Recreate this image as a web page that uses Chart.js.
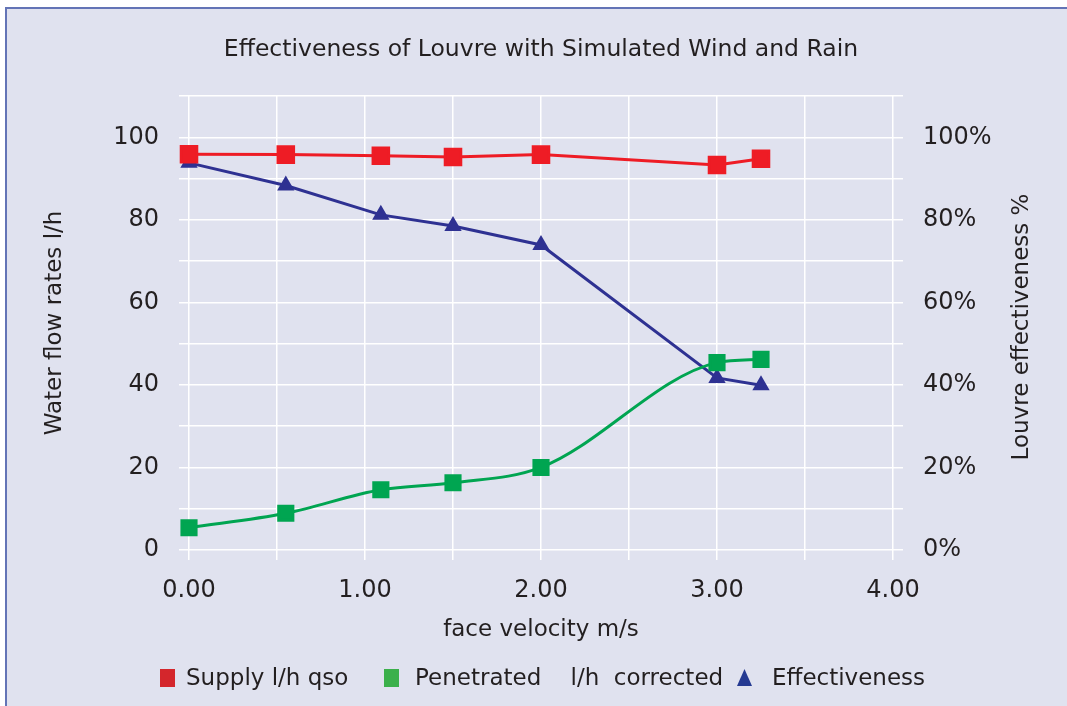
<!DOCTYPE html>
<html>
<head>
<meta charset="utf-8">
<script src="https://cdn.jsdelivr.net/npm/chart.js@4.4.1/dist/chart.umd.min.js"></script>
<style>
  html, body { margin: 0; padding: 0; background: #ffffff; }
  #frame {
    position: absolute; left: 5px; top: 7px; width: 1060px; height: 697px;
    background: #e0e2ef; border-left: 2px solid #6374b6; border-top: 2px solid #6374b6;
  }
  #wrap { position: absolute; left: 0; top: 0; width: 1067px; height: 706px; }
</style>
</head>
<body>
<div id="frame"></div>
<div id="wrap"><canvas id="chart" width="1067" height="706"></canvas></div>
<script>
// face velocity m/s
const velocity = [0, 0.55, 1.09, 1.5, 2.0, 3.0, 3.25];
// water flow rates l/h
const supply = [95.9, 95.8, 95.5, 95.2, 95.8, 93.3, 94.8];
const penetrated = [5.4, 8.9, 14.6, 16.3, 20.0, 45.4, 46.2];
// louvre effectiveness %
const effectiveness = [93.8, 88.3, 81.2, 78.5, 73.9, 41.7, 39.9];

const xTicks = [0, 1, 2, 3, 4];
const yTicks = [0, 20, 40, 60, 80, 100];
const seriesNames = ["Supply l/h qso", "Penetrated    l/h  corrected", "Effectiveness"];
const chartTitle = "Effectiveness of Louvre with Simulated Wind and Rain";

const FONT = "'DejaVu Sans', sans-serif";
const TEXT = "#231f20";

function pts(ys) {
  return velocity.map((v, i) => ({ x: v, y: ys[i] }));
}

// title, right axis title and legend row drawn by hand to follow the original placement
const extraText = {
  id: "extraText",
  afterDraw(chart) {
    const ctx = chart.ctx;
    ctx.save();
    ctx.fillStyle = TEXT;
    ctx.textBaseline = "middle";
    ctx.textAlign = "center";
    ctx.font = "23.5px " + FONT;
    ctx.fillText(chartTitle, 541, 50);

    const items = [
      { box: 160, text: 186, color: "#d4262c", shape: "rect" },
      { box: 384, text: 415, color: "#3bb04b", shape: "rect" },
      { box: 737, text: 772, color: "#253a92", shape: "triangle" },
    ];
    const y = 678;
    ctx.textAlign = "left";
    ctx.font = "23px " + FONT;
    items.forEach((it, i) => {
      ctx.fillStyle = it.color;
      if (it.shape === "triangle") {
        ctx.beginPath();
        ctx.moveTo(it.box + 7.5, y - 9);
        ctx.lineTo(it.box + 15, y + 8);
        ctx.lineTo(it.box, y + 8);
        ctx.closePath();
        ctx.fill();
      } else {
        ctx.fillRect(it.box, y - 9, 15, 18);
      }
      ctx.fillStyle = TEXT;
      ctx.fillText(chart.data.datasets[i].label, it.text, y + 1);
    });

    ctx.textAlign = "center";
    ctx.translate(1022, 327);
    ctx.rotate(-Math.PI / 2);
    ctx.fillText("Louvre effectiveness %", 0, 0);
    ctx.restore();
  },
};

const allSteps = (s, arr) => { s.ticks = arr.map((v) => ({ value: v })); };

new Chart(document.getElementById("chart"), {
  type: "line",
  plugins: [extraText],
  data: {
    datasets: [
      {
        label: seriesNames[0],
        data: pts(supply),
        yAxisID: "y",
        borderColor: "#ee1c25",
        backgroundColor: "#ee1c25",
        borderWidth: 3,
        pointStyle: "rect",
        pointRadius: 11,
        pointHoverRadius: 11,
        tension: 0,
        clip: false,
      },
      {
        label: seriesNames[1],
        data: pts(penetrated),
        yAxisID: "y",
        borderColor: "#00a551",
        backgroundColor: "#00a551",
        borderWidth: 3,
        pointStyle: "rect",
        pointRadius: 10,
        pointHoverRadius: 10,
        cubicInterpolationMode: "monotone",
        clip: false,
      },
      {
        label: seriesNames[2],
        data: pts(effectiveness),
        yAxisID: "y1",
        borderColor: "#2e3192",
        backgroundColor: "#2e3192",
        borderWidth: 3,
        pointStyle: "triangle",
        pointRadius: 7,
        pointHoverRadius: 7,
        tension: 0,
        clip: false,
      },
    ],
  },
  options: {
    responsive: false,
    animation: false,
    layout: { padding: { top: 96, bottom: 51, left: 0, right: 0 } },
    plugins: {
      title: { display: false },
      legend: { display: false },
      tooltip: { enabled: false },
    },
    scales: {
      x: {
        type: "linear",
        min: 0,
        max: 4,
        afterBuildTicks: (s) => allSteps(s, [0, 0.5, 1, 1.5, 2, 2.5, 3, 3.5, 4]),
        afterFit: (s) => { s.height = 105; },
        ticks: {
          color: TEXT,
          font: { family: FONT, size: 24 },
          padding: 16,
          maxRotation: 0,
          callback: (v) => (xTicks.includes(v) ? v.toFixed(2) : ""),
        },
        grid: { color: "#ffffff", lineWidth: 1.5, tickLength: 10 },
        border: { display: false },
        title: {
          display: true,
          text: "face velocity m/s",
          color: TEXT,
          font: { family: FONT, size: 23, lineHeight: 1 },
          padding: { top: 0, bottom: 13 },
        },
      },
      y: {
        position: "left",
        min: 0,
        max: 110,
        afterBuildTicks: (s) => allSteps(s, [0, 10, 20, 30, 40, 50, 60, 70, 80, 90, 100, 110]),
        afterFit: (s) => { s.width = 189; },
        ticks: {
          color: TEXT,
          font: { family: FONT, size: 24 },
          padding: 20,
          callback: (v) => (yTicks.includes(v) ? String(v) : ""),
        },
        grid: { color: "#ffffff", lineWidth: 1.5, tickLength: 10 },
        border: { display: false },
        title: {
          display: true,
          text: "Water flow rates l/h",
          color: TEXT,
          font: { family: FONT, size: 23 },
          padding: { top: 41, bottom: 0 },
        },
      },
      y1: {
        position: "right",
        min: 0,
        max: 110,
        afterBuildTicks: (s) => allSteps(s, [0, 10, 20, 30, 40, 50, 60, 70, 80, 90, 100, 110]),
        afterFit: (s) => { s.width = 174; },
        ticks: {
          color: TEXT,
          font: { family: FONT, size: 24 },
          padding: 20,
          callback: (v) => (yTicks.includes(v) ? v + "%" : ""),
        },
        grid: { color: "#ffffff", lineWidth: 1.5, tickLength: 10, drawOnChartArea: false },
        border: { display: false },
      },
    },
  },
});
</script>
</body>
</html>
